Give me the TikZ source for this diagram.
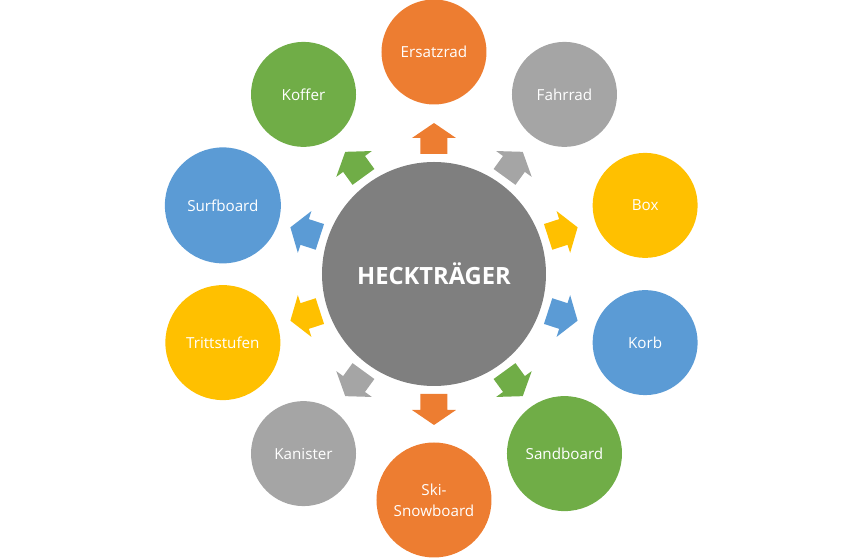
\documentclass[tikz,border=0pt]{standalone}
\usepackage{fontspec}
\setmainfont{Open Sans}
\definecolor{orangeA}{HTML}{ED7D31}
\definecolor{grisA}{HTML}{A5A5A5}
\definecolor{jauneA}{HTML}{FFC000}
\definecolor{bleuA}{HTML}{5B9BD5}
\definecolor{vertA}{HTML}{70AD47}
\definecolor{grisC}{HTML}{7F7F7F}
\tikzset{
  bulle/.style={circle, fill=#1, text=white, inner sep=0pt, align=center,
    font=\fontsize{11.4}{16}\selectfont},
  fleche/.style={fill=#1},
}
\begin{document}
\begin{tikzpicture}[x=0.75pt,y=0.75pt]
\useasboundingbox (-434,-285) rectangle (427,274);

% centre
\node[bulle=grisC, minimum size=168pt, font=\fontsize{17.8}{20}\bfseries] (heck) at (0,0) {HECKTRÄGER};

% bulles et fleches
\foreach \a/\r/\d/\c/\n/\t in {90/222/105/orangeA/ersatzrad/Ersatzrad,
  54/222/105/grisA/fahrrad/Fahrrad,
  18/222/105/jauneA/box/Box,
  -18/222/105/bleuA/korb/Korb,
  -54/222/115/vertA/sandboard/Sandboard,
  -90/226/115/orangeA/ski/{Ski-\\Snowboard},
  -126/222/105/grisA/kanister/Kanister,
  -162/222/115/jauneA/tritt/Trittstufen,
  162/222/116/bleuA/surf/Surfboard,
  126/222/105/vertA/koffer/Koffer} {
  \node[bulle=\c, minimum size=\d*0.75pt] (\n) at (\a:\r) {\t};
  \fill[fleche=\c, shift={(heck.center)}, rotate=\a]
    (120,-13.5) -- (136,-13.5) -- (136,-22) -- (151,0) -- (136,22)
    -- (136,13.5) -- (120,13.5) -- cycle;
}

\end{tikzpicture}
\end{document}
